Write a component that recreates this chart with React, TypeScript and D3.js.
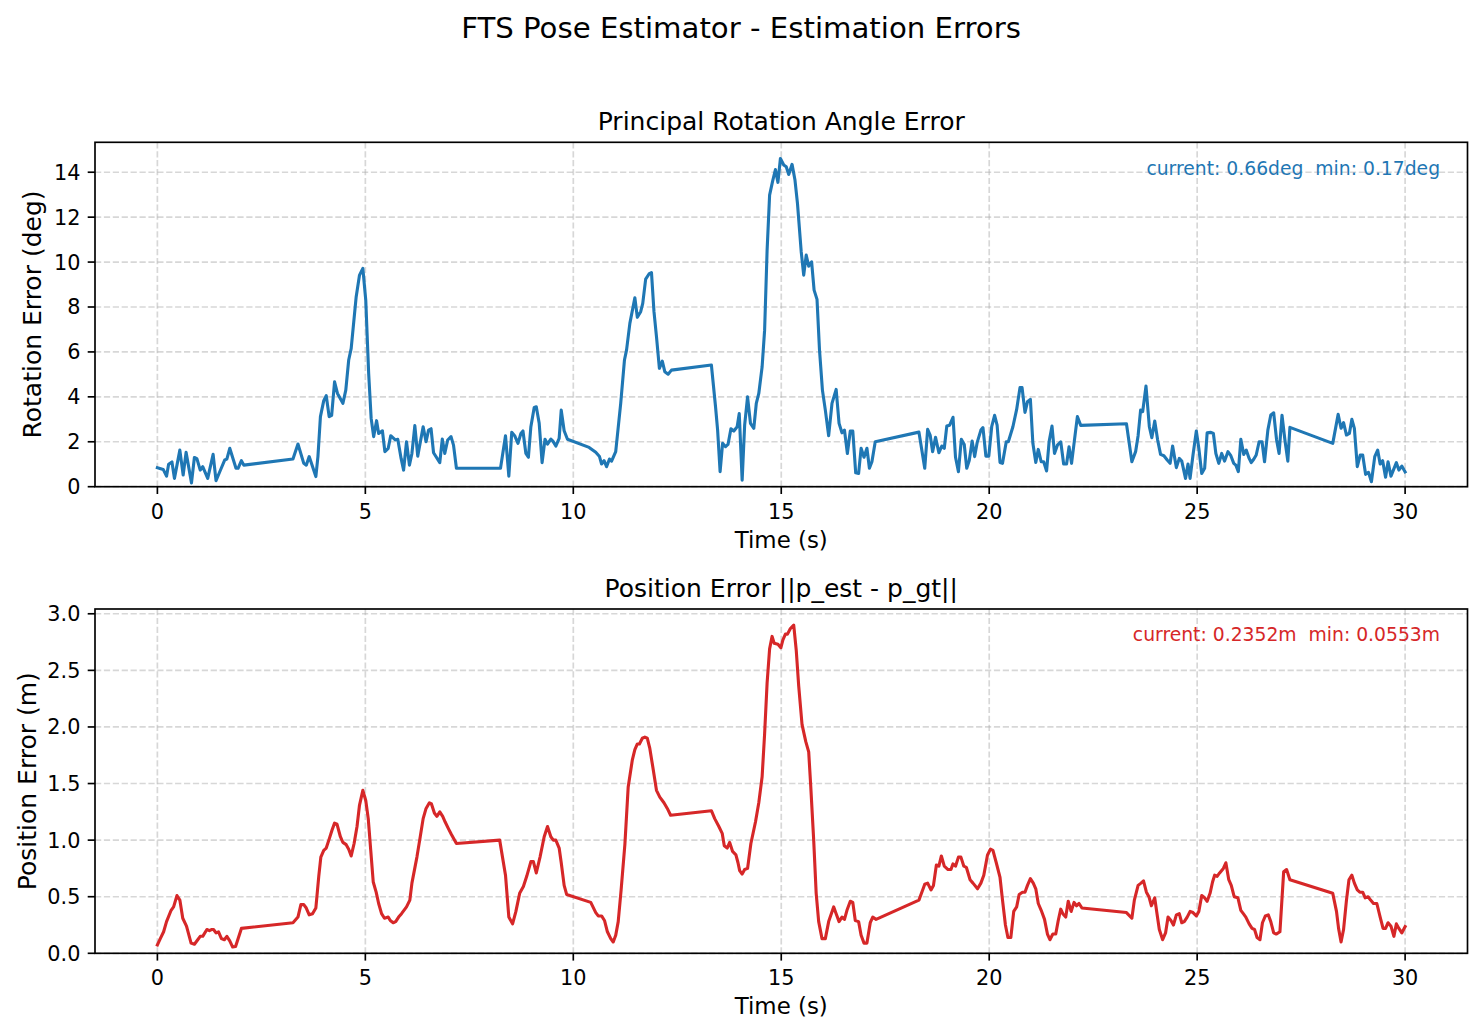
import * as d3 from 'd3';

// rotation error (deg) sampled against time (s)
const rotTime = [
  0, 0.14, 0.22, 0.27, 0.35, 0.41, 0.54, 0.62, 0.69, 0.82, 0.89, 0.95, 1.03, 1.09, 1.21, 1.34, 1.41, 1.51, 1.62, 1.67,
  1.74, 1.89, 1.94, 2.02, 2.08, 3.26, 3.38, 3.52, 3.58, 3.65, 3.81, 3.86, 3.92, 4.0, 4.06, 4.13, 4.19, 4.26, 4.33, 4.46,
  4.53, 4.6, 4.66, 4.78, 4.86, 4.94, 5.01, 5.08, 5.14, 5.2, 5.27, 5.32, 5.41, 5.47, 5.55, 5.61, 5.72, 5.78, 5.86, 5.92,
  5.99, 6.06, 6.12, 6.19, 6.26, 6.39, 6.46, 6.52, 6.58, 6.64, 6.79, 6.85, 6.91, 6.98, 7.06, 7.12, 7.19, 8.25, 8.37, 8.45,
  8.52, 8.59, 8.67, 8.74, 8.79, 8.86, 8.92, 8.98, 9.06, 9.11, 9.18, 9.25, 9.32, 9.38, 9.46, 9.51, 9.58, 9.66, 9.71, 9.78,
  9.86, 10.38, 10.54, 10.63, 10.68, 10.74, 10.8, 10.87, 10.92, 11.02, 11.14, 11.23, 11.28, 11.36, 11.48, 11.54, 11.62, 11.67, 11.74, 11.82,
  11.88, 11.94, 12.0, 12.07, 12.14, 12.2, 12.28, 12.36, 13.32, 13.42, 13.47, 13.53, 13.59, 13.66, 13.72, 13.79, 13.86, 13.94, 13.99, 14.06,
  14.12, 14.19, 14.26, 14.34, 14.4, 14.46, 14.54, 14.6, 14.66, 14.72, 14.79, 14.86, 14.92, 14.98, 15.06, 15.12, 15.18, 15.26, 15.33, 15.39,
  15.48, 15.54, 15.6, 15.66, 15.73, 15.79, 15.86, 15.92, 15.99, 16.06, 16.14, 16.22, 16.32, 16.39, 16.46, 16.52, 16.59, 16.66, 16.72, 16.79,
  16.86, 16.92, 16.99, 17.06, 17.12, 17.18, 17.26, 18.31, 18.45, 18.52, 18.58, 18.64, 18.71, 18.79, 18.86, 18.92, 18.98, 19.05, 19.13, 19.19,
  19.26, 19.33, 19.4, 19.46, 19.52, 19.59, 19.65, 19.71, 19.8, 19.85, 19.92, 19.99, 20.06, 20.13, 20.19, 20.26, 20.32, 20.41, 20.46, 20.57,
  20.66, 20.74, 20.79, 20.86, 20.92, 20.99, 21.05, 21.12, 21.18, 21.25, 21.31, 21.38, 21.44, 21.51, 21.57, 21.64, 21.72, 21.79, 21.86, 21.92,
  21.98, 22.12, 22.2, 23.3, 23.43, 23.52, 23.58, 23.64, 23.69, 23.77, 23.85, 23.91, 23.98, 24.05, 24.12, 24.2, 24.28, 24.35, 24.41, 24.5,
  24.57, 24.63, 24.72, 24.78, 24.83, 24.9, 24.98, 25.04, 25.11, 25.18, 25.24, 25.33, 25.39, 25.45, 25.52, 25.59, 25.66, 25.74, 25.81, 25.88,
  25.93, 25.99, 26.05, 26.12, 26.18, 26.25, 26.3, 26.36, 26.42, 26.49, 26.56, 26.62, 26.7, 26.77, 26.84, 26.91, 26.97, 27.04, 27.11, 27.18,
  27.23, 28.26, 28.39, 28.46, 28.52, 28.59, 28.66, 28.72, 28.78, 28.85, 28.92, 28.98, 29.05, 29.12, 29.19, 29.27, 29.34, 29.4, 29.46, 29.53,
  29.59, 29.66, 29.79, 29.85, 29.92, 30.0,
];
const rotErr = [
  0.85, 0.77, 0.47, 1.0, 1.1, 0.37, 1.63, 0.52, 1.53, 0.17, 1.3, 1.25, 0.74, 0.89, 0.37, 1.44, 0.27, 0.71, 1.19, 1.23,
  1.71, 0.82, 0.82, 1.16, 0.96, 1.23, 1.9, 1.04, 0.96, 1.34, 0.45, 1.34, 3.12, 3.83, 4.05, 3.12, 3.18, 4.67, 4.15, 3.71,
  4.3, 5.64, 6.16, 8.46, 9.42, 9.72, 8.31, 5.04, 3.04, 2.23, 2.94, 2.37, 2.49, 1.56, 1.71, 2.27, 2.08, 2.11, 1.26, 0.74,
  2.0, 0.96, 1.48, 2.72, 1.36, 2.67, 2.0, 2.52, 2.58, 1.51, 1.07, 2.12, 1.48, 2.08, 2.23, 1.85, 0.82, 0.82, 2.27, 0.47,
  2.42, 2.27, 1.93, 2.37, 2.48, 1.48, 1.31, 2.67, 3.53, 3.56, 2.82, 1.07, 2.11, 1.9, 2.12, 2.03, 1.81, 2.15, 3.41, 2.49,
  2.11, 1.75, 1.53, 1.34, 1.01, 1.16, 0.89, 1.23, 1.14, 1.56, 3.71, 5.64, 6.08, 7.27, 8.41, 7.54, 7.79, 8.16, 9.24, 9.47,
  9.53, 7.79, 6.68, 5.27, 5.59, 5.12, 5.01, 5.19, 5.42, 3.56, 2.52, 0.67, 1.93, 1.78, 1.88, 2.58, 2.48, 2.67, 3.26, 0.29,
  2.74, 4.0, 2.82, 2.6, 3.71, 4.15, 5.34, 6.97, 10.53, 12.98, 13.58, 14.12, 13.55, 14.61, 14.32, 14.24, 13.9, 14.35, 13.65, 12.61,
  10.46, 9.42, 10.31, 9.82, 10.01, 8.75, 8.34, 6.08, 4.3, 3.41, 2.27, 3.71, 4.33, 2.82, 2.4, 2.52, 1.48, 2.48, 2.48, 0.62,
  0.59, 1.71, 1.31, 1.71, 0.82, 1.11, 2.0, 2.43, 0.82, 2.55, 2.3, 1.56, 2.2, 1.51, 1.81, 1.71, 2.7, 2.74, 3.09, 1.31,
  0.67, 2.11, 1.88, 0.82, 1.16, 2.03, 1.34, 1.96, 2.52, 2.63, 1.36, 1.36, 2.67, 3.18, 2.74, 1.08, 1.04, 2.0, 2.0, 2.67,
  3.44, 4.41, 4.41, 3.31, 3.78, 3.89, 1.93, 1.08, 1.66, 1.11, 1.11, 0.7, 2.0, 2.7, 1.48, 1.85, 2.0, 1.01, 1.01, 1.78,
  1.04, 3.12, 2.73, 2.8, 1.11, 1.56, 2.27, 3.41, 3.34, 4.48, 2.67, 2.18, 2.92, 2.08, 1.44, 1.38, 1.19, 1.04, 1.81, 0.85,
  1.26, 1.14, 0.37, 1.01, 0.37, 1.41, 2.48, 1.71, 0.59, 0.82, 2.4, 2.42, 2.37, 1.48, 1.04, 1.48, 1.14, 1.56, 1.38, 1.04,
  0.96, 0.67, 2.11, 1.44, 1.63, 1.26, 1.07, 1.22, 1.41, 2.0, 2.0, 1.11, 2.52, 3.19, 3.29, 2.08, 1.48, 3.18, 2.08, 1.14,
  2.64, 1.93, 3.22, 2.6, 2.85, 2.3, 2.37, 3.0, 2.6, 0.89, 1.41, 1.41, 0.55, 0.64, 0.22, 1.34, 1.63, 1.01, 1.16, 0.42,
  1.11, 0.47, 1.07, 0.74, 0.92, 0.66,
];

// position error (m) sampled against time (s)
const posTime = [
  0, 0.07, 0.15, 0.22, 0.33, 0.39, 0.47, 0.54, 0.61, 0.7, 0.81, 0.89, 0.97, 1.03, 1.09, 1.19, 1.25, 1.3, 1.35, 1.41,
  1.47, 1.54, 1.61, 1.67, 1.74, 1.81, 1.88, 2.02, 3.26, 3.38, 3.45, 3.52, 3.58, 3.65, 3.73, 3.81, 3.88, 3.93, 4.0, 4.06,
  4.14, 4.2, 4.26, 4.32, 4.4, 4.46, 4.54, 4.6, 4.66, 4.73, 4.8, 4.86, 4.94, 5.01, 5.07, 5.13, 5.19, 5.26, 5.32, 5.39,
  5.46, 5.55, 5.6, 5.67, 5.73, 5.8, 5.87, 5.99, 6.07, 6.12, 6.24, 6.32, 6.39, 6.46, 6.54, 6.59, 6.66, 6.72, 6.79, 6.86,
  6.92, 7.0, 7.07, 7.19, 8.23, 8.37, 8.45, 8.54, 8.62, 8.71, 8.8, 8.88, 8.98, 9.04, 9.11, 9.2, 9.3, 9.38, 9.46, 9.52,
  9.58, 9.66, 9.71, 9.78, 9.84, 10.42, 10.54, 10.6, 10.68, 10.75, 10.82, 10.9, 10.96, 11.02, 11.08, 11.15, 11.24, 11.32, 11.42, 11.48,
  11.54, 11.59, 11.66, 11.72, 11.78, 11.84, 11.91, 12.0, 12.08, 12.18, 12.26, 12.34, 13.32, 13.4, 13.5, 13.58, 13.63, 13.7, 13.76, 13.83,
  13.91, 13.96, 14.0, 14.06, 14.12, 14.19, 14.27, 14.38, 14.46, 14.54, 14.6, 14.66, 14.72, 14.78, 14.83, 14.92, 14.99, 15.04, 15.1, 15.15,
  15.22, 15.3, 15.36, 15.42, 15.5, 15.59, 15.66, 15.71, 15.78, 15.84, 15.9, 15.98, 16.06, 16.14, 16.26, 16.32, 16.39, 16.46, 16.52, 16.58,
  16.66, 16.72, 16.78, 16.86, 16.92, 16.99, 17.06, 17.14, 17.2, 17.28, 18.31, 18.4, 18.45, 18.52, 18.6, 18.66, 18.73, 18.79, 18.85, 18.92,
  19.01, 19.08, 19.13, 19.19, 19.26, 19.32, 19.39, 19.45, 19.54, 19.61, 19.72, 19.8, 19.87, 19.96, 20.03, 20.09, 20.17, 20.26, 20.32, 20.39,
  20.45, 20.52, 20.59, 20.66, 20.72, 20.8, 20.86, 20.92, 20.99, 21.06, 21.12, 21.18, 21.25, 21.33, 21.4, 21.46, 21.53, 21.6, 21.66, 21.72,
  21.77, 21.84, 21.9, 21.97, 22.04, 22.1, 22.16, 22.23, 23.3, 23.43, 23.49, 23.58, 23.65, 23.71, 23.78, 23.84, 23.9, 23.98, 24.03, 24.09,
  24.17, 24.24, 24.3, 24.37, 24.43, 24.5, 24.57, 24.63, 24.69, 24.76, 24.83, 24.9, 24.98, 25.04, 25.11, 25.18, 25.24, 25.31, 25.37, 25.42,
  25.48, 25.54, 25.63, 25.69, 25.76, 25.82, 25.89, 25.98, 26.05, 26.11, 26.17, 26.25, 26.32, 26.38, 26.44, 26.51, 26.57, 26.64, 26.71, 26.77,
  26.84, 26.9, 26.99, 27.08, 27.15, 27.23, 28.26, 28.35, 28.4, 28.46, 28.52, 28.59, 28.65, 28.72, 28.78, 28.85, 28.91, 28.98, 29.04, 29.11,
  29.17, 29.24, 29.32, 29.4, 29.47, 29.53, 29.59, 29.66, 29.73, 29.79, 29.85, 29.92, 30.0,
];
const posErr = [
  0.074, 0.13, 0.19, 0.28, 0.38, 0.41, 0.51, 0.47, 0.31, 0.24, 0.09, 0.08, 0.12, 0.15, 0.15, 0.21, 0.2, 0.21, 0.21, 0.18,
  0.19, 0.13, 0.12, 0.15, 0.11, 0.0553, 0.06, 0.22, 0.27, 0.32, 0.43, 0.43, 0.4, 0.34, 0.35, 0.4, 0.68, 0.85, 0.91, 0.93,
  1.02, 1.09, 1.15, 1.14, 1.03, 0.98, 0.96, 0.92, 0.86, 0.97, 1.12, 1.31, 1.44, 1.35, 1.19, 0.91, 0.63, 0.54, 0.44, 0.35,
  0.31, 0.32, 0.29, 0.27, 0.28, 0.32, 0.35, 0.41, 0.47, 0.62, 0.85, 1.03, 1.19, 1.28, 1.33, 1.32, 1.24, 1.21, 1.25, 1.21,
  1.16, 1.1, 1.05, 0.97, 1.0, 0.69, 0.32, 0.26, 0.37, 0.53, 0.59, 0.68, 0.81, 0.81, 0.71, 0.85, 1.03, 1.12, 1.03, 1.0,
  1.0, 0.93, 0.8, 0.6, 0.52, 0.45, 0.36, 0.33, 0.33, 0.29, 0.19, 0.13, 0.1, 0.16, 0.28, 0.56, 0.96, 1.47, 1.71, 1.8,
  1.85, 1.85, 1.9, 1.91, 1.9, 1.81, 1.65, 1.44, 1.38, 1.33, 1.28, 1.22, 1.26, 1.19, 1.12, 1.06, 0.95, 0.93, 0.98, 0.9,
  0.87, 0.8, 0.73, 0.7, 0.74, 0.75, 0.97, 1.16, 1.33, 1.56, 1.94, 2.39, 2.69, 2.8, 2.74, 2.73, 2.7, 2.77, 2.82, 2.82,
  2.87, 2.9, 2.68, 2.36, 2.02, 1.87, 1.78, 1.47, 1.0, 0.53, 0.28, 0.13, 0.13, 0.28, 0.41, 0.35, 0.28, 0.32, 0.3, 0.38,
  0.46, 0.45, 0.29, 0.28, 0.16, 0.09, 0.09, 0.27, 0.32, 0.3, 0.47, 0.56, 0.61, 0.62, 0.56, 0.6, 0.78, 0.77, 0.86, 0.77,
  0.74, 0.74, 0.79, 0.77, 0.85, 0.85, 0.77, 0.76, 0.65, 0.62, 0.57, 0.62, 0.69, 0.87, 0.92, 0.91, 0.8, 0.67, 0.47, 0.25,
  0.14, 0.14, 0.37, 0.41, 0.52, 0.54, 0.54, 0.6, 0.66, 0.62, 0.57, 0.44, 0.38, 0.3, 0.17, 0.12, 0.17, 0.17, 0.29, 0.39,
  0.35, 0.32, 0.46, 0.37, 0.45, 0.42, 0.44, 0.4, 0.36, 0.31, 0.47, 0.6, 0.62, 0.64, 0.54, 0.5, 0.42, 0.49, 0.36, 0.21,
  0.12, 0.18, 0.32, 0.29, 0.25, 0.34, 0.35, 0.27, 0.28, 0.32, 0.37, 0.36, 0.33, 0.37, 0.51, 0.49, 0.46, 0.53, 0.63, 0.69,
  0.68, 0.71, 0.75, 0.8, 0.65, 0.6, 0.5, 0.49, 0.38, 0.35, 0.32, 0.26, 0.22, 0.21, 0.14, 0.12, 0.27, 0.33, 0.34, 0.28,
  0.18, 0.17, 0.19, 0.72, 0.74, 0.65, 0.53, 0.37, 0.22, 0.1, 0.21, 0.47, 0.65, 0.69, 0.62, 0.56, 0.54, 0.54, 0.49, 0.5,
  0.47, 0.44, 0.44, 0.32, 0.22, 0.22, 0.27, 0.24, 0.15, 0.26, 0.22, 0.18, 0.2352,
];

const xTicks = [0, 5, 10, 15, 20, 25, 30];
const rotTicks = [0, 2, 4, 6, 8, 10, 12, 14];
const posTicks = [0, 0.5, 1.0, 1.5, 2.0, 2.5, 3.0];

const W = 1482;
const H = 1035;
const FONT = '"DejaVu Sans", sans-serif';
const LEFT = 95;
const RIGHT = 1467.5;
const TICK = 7.3;

interface PanelProps {
  top: number;
  bottom: number;
  times: number[];
  values: number[];
  ticks: number[];
  tickFmt: (v: number) => string;
  color: string;
  title: string;
  ylabel: string;
  ylabelX: number;
  note: string;
}

function Panel({ top, bottom, times, values, ticks, tickFmt, color, title, ylabel, ylabelX, note }: PanelProps) {
  const [t0, t1] = d3.extent(times) as [number, number];
  const padT = (t1 - t0) * 0.05;
  const x = d3.scaleLinear().domain([t0 - padT, t1 + padT]).range([LEFT, RIGHT]);

  const vMin = d3.min(values) as number;
  const vMax = d3.max(values) as number;
  const y = d3.scaleLinear().domain([0, vMax + 0.05 * (vMax - vMin)]).range([bottom, top]);

  const pts = times.map((t, i) => [t, values[i]] as [number, number]);
  const line = d3.line<[number, number]>().x(d => x(d[0])).y(d => y(d[1]));

  return (
    <g>
      {/* grid */}
      {xTicks.map(t => (
        <line key={'gx' + t} x1={x(t)} x2={x(t)} y1={top} y2={bottom}
          stroke="#b0b0b0" strokeOpacity={0.5} strokeWidth={1.67} strokeDasharray="6.2,2.7" />
      ))}
      {ticks.map(v => (
        <line key={'gy' + v} x1={LEFT} x2={RIGHT} y1={y(v)} y2={y(v)}
          stroke="#b0b0b0" strokeOpacity={0.5} strokeWidth={1.67} strokeDasharray="6.2,2.7" />
      ))}

      <path d={line(pts) ?? ''} fill="none" stroke={color} strokeWidth={3.1}
        strokeLinejoin="round" strokeLinecap="square" />

      <rect x={LEFT} y={top} width={RIGHT - LEFT} height={bottom - top}
        fill="none" stroke="#000" strokeWidth={1.67} />

      {/* x axis */}
      {xTicks.map(t => (
        <g key={'xt' + t}>
          <line x1={x(t)} x2={x(t)} y1={bottom} y2={bottom + TICK} stroke="#000" strokeWidth={1.67} />
          <text x={x(t)} y={bottom + 32} textAnchor="middle" fontSize={20.8} fill="#000">{t}</text>
        </g>
      ))}
      <text x={(LEFT + RIGHT) / 2} y={bottom + 61} textAnchor="middle" fontSize={22.9} fill="#000">Time (s)</text>

      {/* y axis */}
      {ticks.map(v => (
        <g key={'yt' + v}>
          <line x1={LEFT - TICK} x2={LEFT} y1={y(v)} y2={y(v)} stroke="#000" strokeWidth={1.67} />
          <text x={LEFT - 14.6} y={y(v)} dy="0.36em" textAnchor="end" fontSize={20.8} fill="#000">{tickFmt(v)}</text>
        </g>
      ))}
      <text transform={`translate(${ylabelX},${(top + bottom) / 2}) rotate(-90)`} textAnchor="middle"
        fontSize={25} fill="#000">{ylabel}</text>

      <text x={(LEFT + RIGHT) / 2} y={top - 12.5} textAnchor="middle" fontSize={25} fill="#000">{title}</text>

      <text x={LEFT + 0.98 * (RIGHT - LEFT)} y={top + 0.05 * (bottom - top) + 15} textAnchor="end"
        fontSize={18.75} fill={color} style={{ whiteSpace: 'pre' }}>{note}</text>
    </g>
  );
}

export default function App() {
  return (
    <svg width={W} height={H} viewBox={`0 0 ${W} ${H}`}
      style={{ position: 'absolute', left: 0, top: 0, display: 'block', fontFamily: FONT, background: '#fff' }}>
      <rect width={W} height={H} fill="#fff" />
      <text x={W / 2} y={38} textAnchor="middle" fontSize={29.2} fill="#000">FTS Pose Estimator - Estimation Errors</text>
      <Panel top={142.3} bottom={486.7} times={rotTime} values={rotErr} ticks={rotTicks}
        tickFmt={v => String(v)} color="#1f77b4" title="Principal Rotation Angle Error"
        ylabel="Rotation Error (deg)" ylabelX={41} note={'current: 0.66deg  min: 0.17deg'} />
      <Panel top={609} bottom={953.3} times={posTime} values={posErr} ticks={posTicks}
        tickFmt={v => v.toFixed(1)} color="#d62728" title="Position Error ||p_est - p_gt||"
        ylabelX={36} ylabel="Position Error (m)" note={'current: 0.2352m  min: 0.0553m'} />
    </svg>
  );
}
